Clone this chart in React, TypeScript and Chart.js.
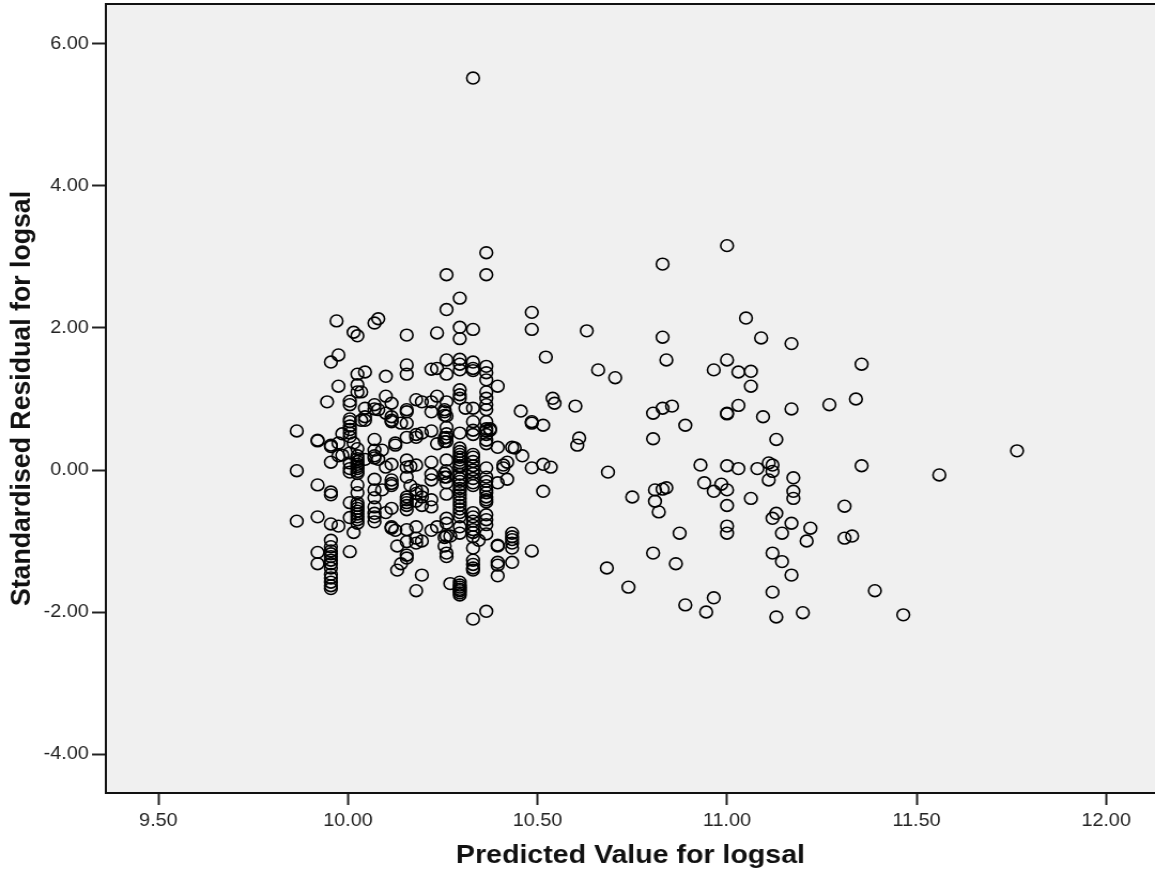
import React, { useEffect, useRef } from "react";
import { Chart, registerables } from "chart.js";

Chart.register(...registerables);

const xTicks = [9.5, 10, 10.5, 11, 11.5, 12];
const yTicks = [-4, -2, 0, 2, 4, 6];
const xTitle = "Predicted Value for logsal";
const yTitle = "Standardised Residual for logsal";

const predicted = [
  9.865, 9.92, 9.945, 9.955, 9.97, 9.975, 9.985, 10.005, 10.015, 10.025, 10.035, 10.045, 10.07, 10.08, 10.09, 10.1,
  10.115, 10.125, 10.13, 10.14, 10.155, 10.165, 10.18, 10.195, 10.22, 10.235, 10.255, 10.26, 10.27, 10.295, 10.31,
  10.33, 10.345, 10.365, 10.375, 10.395, 10.41, 10.42, 10.433, 10.44, 10.456, 10.46, 10.485, 10.515, 10.522, 10.535,
  10.54, 10.545, 10.6, 10.605, 10.61, 10.63, 10.66, 10.683, 10.686, 10.705, 10.74, 10.75, 10.805, 10.81, 10.82, 10.83,
  10.84, 10.855, 10.865, 10.875, 10.89, 10.93, 10.94, 10.945, 10.965, 10.985, 11.0, 11.03, 11.05, 11.063, 11.08, 11.09,
  11.095, 11.11, 11.12, 11.13, 11.145, 11.17, 11.175, 11.2, 11.21, 11.22, 11.27, 11.31, 11.33, 11.34, 11.355, 11.39,
  11.465, 11.56, 11.765,
];

const residuals = [
  [0.55, -0.01, -0.72],
  [0.42, 0.41, -0.21, -0.66, -1.16, -1.32],
  [0.96],
  [1.52, 0.35, 0.33, 0.11, -0.31, -0.35, -0.76, -0.99, -1.08, -1.14, -1.18, -1.22, -1.27, -1.32, -1.38, -1.47, -1.52, -1.58, -1.63, -1.67],
  [2.1],
  [1.62, 1.18, 0.38, 0.2, -0.79],
  [0.51, 0.21],
  [0.97, 0.92, 0.72, 0.68, 0.62, 0.57, 0.52, 0.47, 0.24, 0.1, 0.02, -0.03, -0.46, -0.67, -1.15],
  [1.94, 0.38, -0.88],
  [1.89, 1.35, 1.2, 1.1, 0.3, 0.2, 0.16, 0.12, 0.08, 0.05, 0.02, -0.02, -0.05, -0.21, -0.32, -0.46, -0.5, -0.54, -0.58, -0.62, -0.66, -0.7, -0.75],
  [1.1, 0.7],
  [1.38, 0.87, 0.75, 0.7, 0.15],
  [2.07, 0.92, 0.86, 0.43, 0.28, 0.2, 0.17, -0.13, -0.28, -0.39, -0.52, -0.61, -0.66, -0.73],
  [2.13, 0.85, 0.15],
  [0.28, -0.28],
  [1.32, 1.04, 0.8, 0.04, -0.6],
  [0.94, 0.75, 0.7, 0.68, 0.08, -0.14, -0.19, -0.22, -0.54, -0.8, -0.82],
  [0.38, 0.35, -0.85],
  [-1.07, -1.41],
  [0.66, -1.32],
  [1.9, 1.48, 1.35, 0.85, 0.82, 0.66, 0.46, 0.14, 0.04, -0.1, -0.38, -0.42, -0.46, -0.5, -0.56, -0.84, -1.01, -1.2, -1.24],
  [0.05, -0.22],
  [0.99, 0.5, 0.46, 0.07, -0.28, -0.33, -0.44, -0.8, -0.96, -1.03, -1.7],
  [0.96, 0.52, -0.3, -0.38, -0.5, -1.0, -1.48],
  [1.42, 0.96, 0.82, 0.55, 0.11, -0.06, -0.14, -0.42, -0.52, -0.85],
  [1.93, 1.43, 1.04, 0.37, -0.8],
  [0.85, 0.82, 0.77, 0.45, 0.4, -0.05, -0.1, -0.95, -1.07],
  [2.75, 2.26, 1.55, 1.35, 0.96, 0.76, 0.6, 0.51, 0.46, 0.4, 0.14, -0.01, -0.1, -0.18, -0.34, -0.68, -0.75, -0.93, -1.17, -1.22],
  [-0.93, -1.6],
  [2.42, 2.01, 1.85, 1.56, 1.49, 1.41, 1.13, 1.06, 1.01, 0.52, 0.31, 0.26, 0.22, 0.18, 0.14, 0.1, 0.06, 0.04, -0.06, -0.12, -0.16, -0.21, -0.26, -0.3, -0.35, -0.4, -0.45, -0.5, -0.55, -0.6, -0.66, -0.8, -0.89, -1.58, -1.62, -1.65, -1.68, -1.7, -1.73, -1.76],
  [0.87],
  [5.52, 1.98, 1.52, 1.43, 1.4, 0.87, 0.68, 0.56, 0.5, 0.22, 0.18, 0.12, 0.06, 0, -0.05, -0.12, -0.18, -0.22, -0.6, -0.66, -0.72, -0.78, -0.84, -0.88, -0.94, -1.1, -1.27, -1.33, -1.38, -1.41, -2.1],
  [-0.99],
  [3.06, 2.75, 1.46, 1.37, 1.27, 1.1, 1.01, 0.92, 0.85, 0.68, 0.58, 0.55, 0.5, 0.42, 0.37, 0.03, -0.1, -0.16, -0.22, -0.28, -0.32, -0.38, -0.42, -0.45, -0.63, -0.7, -0.77, -0.9, -1.99],
  [0.58, 0.56],
  [1.18, 0.32, -0.18, -1.06, -1.07, -1.3, -1.34, -1.49],
  [0.03, 0.07],
  [0.11, -0.13],
  [0.32, -0.89, -0.94, -0.98, -1.03, -1.1, -1.3],
  [0.31],
  [0.83],
  [0.2],
  [2.22, 1.98, 0.68, 0.66, 0.03, -1.14],
  [0.63, 0.08, -0.3],
  [1.59],
  [0.04],
  [1.01],
  [0.94],
  [0.9],
  [0.35],
  [0.45],
  [1.96],
  [1.41],
  [-1.38],
  [-0.03],
  [1.3],
  [-1.65],
  [-0.38],
  [0.8, 0.44, -1.17],
  [-0.28, -0.44],
  [-0.59],
  [2.9, 1.87, 0.87, -0.27],
  [1.55, -0.25],
  [0.9],
  [-1.32],
  [-0.89],
  [0.63, -1.9],
  [0.07],
  [-0.18],
  [-2.0],
  [1.41, -0.3, -1.8],
  [-0.2],
  [3.16, 1.55, 0.8, 0.79, 0.06, -0.28, -0.5, -0.79, -0.89],
  [1.38, 0.91, 0.02],
  [2.14],
  [1.39, 1.18, -0.4],
  [0.02],
  [1.86],
  [0.75],
  [0.1, -0.14],
  [0.07, -0.02, -0.68, -1.17, -1.72],
  [0.43, -0.61, -2.07],
  [-0.89, -1.29],
  [1.78, 0.86, -0.75, -1.48],
  [-0.11, -0.3, -0.4],
  [-2.01],
  [-1.0],
  [-0.82],
  [0.92],
  [-0.51, -0.96],
  [-0.93],
  [1.0],
  [1.49, 0.06],
  [-1.7],
  [-2.04],
  [-0.07],
  [0.27],
];

const points = predicted.flatMap((x, i) => residuals[i].map((y) => ({ x, y })));

const tickFont = { family: "'Liberation Sans', Arial, sans-serif", size: 18.5 };
const titleFont = { family: "'Liberation Sans', Arial, sans-serif", size: 26.7, weight: "bold" as const };

const plotBackdrop = {
  id: "plotBackdrop",
  beforeDraw(chart: any) {
    const { ctx, chartArea: a } = chart;
    ctx.save();
    ctx.fillStyle = "#f0f0f0";
    ctx.fillRect(a.left, a.top, a.right - a.left, a.bottom - a.top);
    ctx.restore();
  },
  afterDraw(chart: any) {
    const { ctx, chartArea: a } = chart;
    ctx.save();
    ctx.strokeStyle = "#111";
    ctx.lineWidth = 2;
    ctx.beginPath();
    ctx.moveTo(a.left, a.top);
    ctx.lineTo(a.right, a.top);
    ctx.stroke();
    ctx.restore();
  },
};

export default function App() {
  const ref = useRef<HTMLCanvasElement>(null);
  useEffect(() => {
    const chart = new Chart(ref.current!, {
      type: "scatter",
      data: {
        datasets: [
          {
            data: points,
            pointRadius: 5.9,
            pointBorderWidth: 1.6,
            pointBorderColor: "#000",
            pointBackgroundColor: "rgba(0,0,0,0)",
            clip: false,
          },
        ],
      },
      options: {
        animation: false,
        responsive: false,
        devicePixelRatio: 1,
        layout: { autoPadding: false, padding: { top: 4, right: 0, left: 0, bottom: 0 } },
        plugins: { legend: { display: false }, tooltip: { enabled: false } },
        scales: {
          x: {
            type: "linear",
            min: 9.3615,
            max: 12.129,
            afterBuildTicks: (s: any) => {
              s.ticks = xTicks.map((value) => ({ value }));
            },
            afterFit: (s: any) => {
              s.height = 81;
              s.paddingLeft = 0;
              s.paddingRight = 0;
            },
            ticks: {
              autoSkip: false,
              maxRotation: 0,
              padding: 5,
              color: "#222",
              font: tickFont,
              callback: (v: any) => Number(v).toFixed(2),
            },
            grid: { drawOnChartArea: false, tickLength: 12, tickColor: "#222", tickWidth: 2 },
            border: { display: true, color: "#111", width: 2 },
            title: { display: true, text: xTitle, color: "#111", font: titleFont, padding: { top: 0, bottom: 2 } },
          },
          y: {
            type: "linear",
            min: -4.549,
            max: 6.563,
            afterBuildTicks: (s: any) => {
              s.ticks = yTicks.map((value) => ({ value }));
            },
            afterFit: (s: any) => {
              s.width = 99;
              s.paddingTop = 0;
              s.paddingBottom = 0;
            },
            ticks: {
              autoSkip: false,
              padding: 3,
              color: "#222",
              font: tickFont,
              callback: (v: any) => Number(v).toFixed(2),
            },
            grid: { drawOnChartArea: false, tickLength: 13, tickColor: "#222", tickWidth: 2 },
            border: { display: true, color: "#111", width: 2 },
            title: { display: true, text: yTitle, color: "#111", font: titleFont, padding: { top: 5, bottom: 0 } },
          },
        },
      },
      plugins: [plotBackdrop],
    } as any);
    return () => chart.destroy();
  }, []);
  return (
    <div style={{ position: "absolute", left: 0, top: 0, width: 1155, height: 874, overflow: "hidden" }}>
      <canvas ref={ref} width={1080} height={874} style={{ display: "block", width: 1155, height: 874 }} />
    </div>
  );
}
